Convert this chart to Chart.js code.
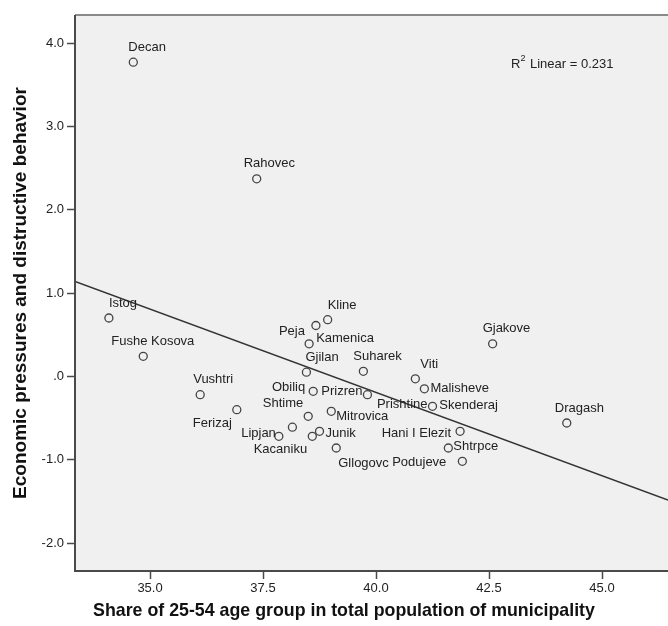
<!DOCTYPE html>
<html>
<head>
<meta charset="utf-8">
<script src="https://cdn.jsdelivr.net/npm/chart.js@4.4.1/dist/chart.umd.min.js"></script>
<style>
  html, body { margin: 0; padding: 0; background: #fff; overflow: hidden; }
  #wrap { width: 668px; height: 626px; position: relative; }
</style>
</head>
<body>
<div id="wrap"><canvas id="myChart" width="668" height="626"></canvas></div>
<script>
// municipalities, share of 25-54 age group (x) and factor score (y)
const names = ['Decan', 'Rahovec', 'Istog', 'Fushe Kosova', 'Vushtri', 'Ferizaj',
    'Lipjan', 'Kacaniku', 'Skenderaj', 'Junik', 'Shtime', 'Mitrovica', 'Obiliq',
    'Prizren', 'Prishtine', 'Kline', 'Peja', 'Kamenica', 'Gjilan', 'Suharek', 'Viti',
    'Malisheve', 'Gjakove', 'Dragash', 'Hani I Elezit', 'Shtrpce', 'Podujeve', 'Gllogovc'];
const shareValues = [34.63, 37.36, 34.09, 34.85, 36.11, 36.92,
    37.85, 38.15, 38.59, 38.75, 38.50, 39.01, 38.61,
    39.81, 41.25, 38.93, 38.67, 38.52, 38.46, 39.72, 40.87,
    41.07, 42.58, 44.22, 41.86, 41.60, 41.91, 39.12];
const pressureValues = [3.77, 2.37, 0.70, 0.24, -0.22, -0.40,
    -0.72, -0.61, -0.72, -0.66, -0.48, -0.42, -0.18,
    -0.22, -0.36, 0.68, 0.61, 0.39, 0.05, 0.06, -0.03,
    -0.15, 0.39, -0.56, -0.66, -0.86, -1.02, -0.86];

// fit line end points
const fitX = [33.34, 46.46];
const fitY = [1.138, -1.486];

const xTicks = [35, 37.5, 40, 42.5, 45];
const xTickLabels = ['35.0', '37.5', '40.0', '42.5', '45.0'];
const yTicks = [-2, -1, 0, 1, 2, 3, 4];
const yTickLabels = ['-2.0', '-1.0', '.0', '1.0', '2.0', '3.0', '4.0'];
const rSquared = '0.231';

// label placement: [anchor, dx, dy] in pixels from the point
const labelPos = [
    ['left', -5, -15], ['left', -13, -15], ['left', 0, -15], ['left', -32, -15],
    ['left', -7, -15], ['right', -5, 14],
    ['right', -3, -3], ['center', -12, 22], ['left', 127, -31], ['left', 6, 2],
    ['right', -5, -13], ['left', 5, 5], ['right', -8, -4],
    ['right', -5, -3], ['right', -5, -2], ['left', 0, -14], ['right', -11, 6],
    ['left', 7, -5], ['left', -1, -15], ['left', -10, -15], ['left', 5, -14],
    ['left', 6, 0], ['left', -10, -15], ['left', -12, -15], ['right', -9, 2],
    ['left', 5, -2], ['right', -16, 1], ['left', 2, 15]
];

const FONT = "'Liberation Sans', Arial, sans-serif";

const framePlugin = {
    id: 'frame',
    beforeDatasetsDraw(chart) {
        const { ctx, chartArea: a } = chart;
        ctx.save();
        ctx.fillStyle = '#f0f0f0';
        ctx.fillRect(a.left, a.top, a.right - a.left, a.bottom - a.top);
        ctx.restore();
    },
    afterDraw(chart) {
        const { ctx, chartArea: a } = chart;
        ctx.save();
        // frame
        ctx.strokeStyle = '#8a8a8a';
        ctx.lineWidth = 2;
        ctx.beginPath();
        ctx.moveTo(a.left, a.top);
        ctx.lineTo(a.right, a.top);
        ctx.stroke();
        ctx.strokeStyle = '#4a4a4a';
        ctx.lineWidth = 2;
        ctx.beginPath();
        ctx.moveTo(a.left, a.top);
        ctx.lineTo(a.left, a.bottom);
        ctx.lineTo(a.right, a.bottom);
        ctx.stroke();

        // point labels
        const meta = chart.getDatasetMeta(0);
        ctx.font = '13px ' + FONT;
        ctx.fillStyle = '#222';
        ctx.textBaseline = 'middle';
        meta.data.forEach((pt, i) => {
            const [align, dx, dy] = labelPos[i];
            ctx.textAlign = align;
            ctx.fillText(names[i], pt.x + dx, pt.y + dy);
        });

        // R squared note
        ctx.textAlign = 'left';
        let x = 511;
        const y = 64;
        ctx.fillText('R', x, y);
        x += ctx.measureText('R').width;
        ctx.font = '9px ' + FONT;
        ctx.fillText('2', x, y - 5);
        x += ctx.measureText('2').width + 1;
        ctx.font = '13px ' + FONT;
        ctx.fillText(' Linear = ' + rSquared, x, y);

        // axis titles
        ctx.fillStyle = '#111';
        ctx.textAlign = 'center';
        ctx.font = 'bold 17.8px ' + FONT;
        ctx.fillText('Share of 25-54 age group in total population of municipality', 344, 611);
        ctx.font = 'bold 19px ' + FONT;
        ctx.translate(21, 293);
        ctx.rotate(-Math.PI / 2);
        ctx.fillText('Economic pressures and distructive behavior', 0, 0);
        ctx.restore();
    }
};

const ctx = document.getElementById('myChart').getContext('2d');
const points = shareValues.map((v, i) => ({ x: v, y: pressureValues[i] }));
const fitPoints = fitX.map((v, i) => ({ x: v, y: fitY[i] }));

new Chart(ctx, {
    type: 'scatter',
    data: {
        datasets: [
            {
                label: 'Municipalities',
                data: points,
                pointStyle: 'circle',
                pointRadius: 4,
                pointHoverRadius: 4,
                borderColor: '#444',
                borderWidth: 1.3,
                backgroundColor: 'rgba(0,0,0,0)'
            },
            {
                type: 'line',
                label: 'Fit',
                data: fitPoints,
                borderColor: '#333',
                borderWidth: 1.5,
                pointRadius: 0,
                fill: false
            }
        ]
    },
    options: {
        responsive: false,
        animation: false,
        events: [],
        layout: { autoPadding: false, padding: { top: 15, left: 0, right: 0, bottom: 0 } },
        plugins: {
            legend: { display: false },
            tooltip: { enabled: false }
        },
        scales: {
            x: {
                type: 'linear',
                min: 33.34,
                max: 46.46,
                afterFit: s => { s.height = 55; s.paddingLeft = 0; s.paddingRight = 0; },
                afterBuildTicks: s => { s.ticks = xTicks.map(v => ({ value: v })); },
                grid: { display: true, drawOnChartArea: false, drawTicks: true, tickLength: 8, tickColor: '#4a4a4a', tickWidth: 1.5 },
                border: { display: false },
                ticks: {
                    padding: 2,
                    color: '#222',
                    font: { family: FONT, size: 13 },
                    maxRotation: 0,
                    callback: v => xTickLabels[xTicks.indexOf(v)]
                }
            },
            y: {
                type: 'linear',
                min: -2.336,
                max: 4.336,
                afterFit: s => { s.width = 75; s.paddingTop = 0; s.paddingBottom = 0; },
                afterBuildTicks: s => { s.ticks = yTicks.map(v => ({ value: v })); },
                grid: { display: true, drawOnChartArea: false, drawTicks: true, tickLength: 8, tickColor: '#4a4a4a', tickWidth: 1.5 },
                border: { display: false },
                ticks: {
                    padding: 3,
                    color: '#222',
                    font: { family: FONT, size: 13 },
                    callback: v => yTickLabels[yTicks.indexOf(v)]
                }
            }
        }
    },
    plugins: [framePlugin]
});
</script>
</body>
</html>
